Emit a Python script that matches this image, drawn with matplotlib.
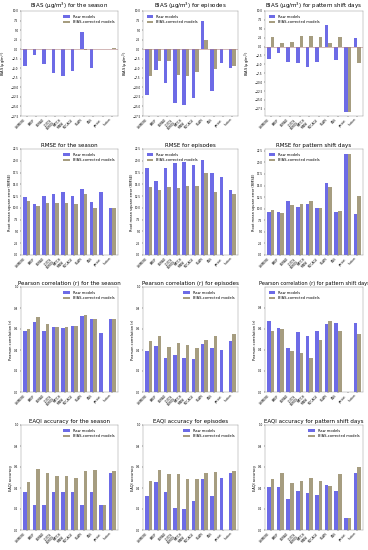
import numpy as np
import matplotlib
matplotlib.use("Agg")
import matplotlib.pyplot as plt

models = ['CHIMERE', 'EMEP', 'EURAD', 'LOTOS\nEUROS', 'MATCH\nMINNI', 'MOCAGE', 'SILAM', 'ENS', 'persist', 'fusion']
nan = np.nan

bias_season_raw = [-4.5, -1.5, -3.8, -6.2, -6.9, -5.6, 4.5, -4.9, nan, 0.0]
bias_season_cor = [0.05, 0.05, 0.05, 0.05, 0.05, 0.05, -0.3, 0.05, nan, 0.3]
bias_epi_raw = [-12.1, -5.5, -8.9, -14.0, -14.7, -12.7, 7.5, -11.0, -3.6, -4.9]
bias_epi_cor = [-6.9, -3.2, -3.2, -6.7, -6.9, -6.0, 2.3, -5.3, nan, -4.4]
bias_shift_raw = [-3.5, -1.8, -4.2, -4.7, -5.6, -4.4, 6.0, -3.9, -18.5, 2.5]
bias_shift_cor = [2.7, 1.1, 1.4, 3.1, 3.1, 2.8, 1.0, 2.6, -18.5, -4.6]

rmse_season_raw = [12.3, 10.9, 12.5, 12.9, 13.3, 12.5, 14.1, 11.3, 13.3, 9.9]
rmse_season_cor = [11.4, 10.3, 11.0, 11.0, 11.0, 10.9, 12.9, 9.9, nan, 9.9]
rmse_epi_raw = [18.4, 15.8, 18.4, 19.6, 19.8, 19.1, 20.1, 17.4, 16.6, 13.9]
rmse_epi_cor = [14.5, 13.8, 14.4, 14.3, 14.6, 14.6, 17.5, 13.4, nan, 13.0]
rmse_shift_raw = [9.2, 9.3, 11.7, 10.4, 11.1, 10.2, 15.5, 9.3, 21.8, 8.8]
rmse_shift_cor = [9.7, 9.1, 10.9, 11.1, 11.7, 10.2, 14.7, 9.5, 21.8, 12.8]

r_season_raw = [0.58, 0.67, 0.58, 0.62, 0.61, 0.63, 0.72, 0.70, 0.56, 0.70]
r_season_cor = [0.60, 0.71, 0.65, 0.62, 0.62, 0.63, 0.73, 0.70, nan, 0.70]
r_epi_raw = [0.39, 0.44, 0.32, 0.35, 0.32, 0.31, 0.46, 0.42, 0.40, 0.49]
r_epi_cor = [0.49, 0.53, 0.43, 0.47, 0.45, 0.42, 0.50, 0.53, nan, 0.55]
r_shift_raw = [0.67, 0.61, 0.42, 0.57, 0.53, 0.58, 0.64, 0.65, nan, 0.65]
r_shift_cor = [0.58, 0.60, 0.39, 0.37, 0.32, 0.49, 0.67, 0.58, nan, 0.55]

eaqi_season_raw = [0.36, 0.24, 0.24, 0.36, 0.36, 0.36, 0.24, 0.36, 0.24, 0.54]
eaqi_season_cor = [0.46, 0.58, 0.54, 0.51, 0.51, 0.50, 0.56, 0.57, 0.24, 0.56]
eaqi_epi_raw = [0.32, 0.46, 0.36, 0.21, 0.20, 0.28, 0.49, 0.32, 0.50, 0.54]
eaqi_epi_cor = [0.47, 0.57, 0.53, 0.53, 0.49, 0.49, 0.54, 0.55, nan, 0.56]
eaqi_shift_raw = [0.41, 0.41, 0.30, 0.37, 0.35, 0.33, 0.43, 0.37, 0.11, 0.54]
eaqi_shift_cor = [0.49, 0.54, 0.45, 0.47, 0.50, 0.47, 0.42, 0.53, 0.11, 0.60]

bias_label = 'BIAS (\u00b5g/m$^3$)'
panels = [
    (bias_season_raw, bias_season_cor, bias_label + ' for the season', bias_label, (-17.5, 10), np.arange(-17.5, 10.1, 2.5), 'upper right'),
    (bias_epi_raw, bias_epi_cor, bias_label + ' for episodes', bias_label, (-17.5, 10), np.arange(-17.5, 10.1, 2.5), 'upper left'),
    (bias_shift_raw, bias_shift_cor, bias_label + ' for pattern shift days', bias_label, (-19.5, 10), np.arange(-17.5, 10.1, 2.5), 'upper left'),
    (rmse_season_raw, rmse_season_cor, 'RMSE for the season', 'Root mean square error (RMSE)', (0, 22.5), np.arange(0, 22.6, 2.5), 'upper right'),
    (rmse_epi_raw, rmse_epi_cor, 'RMSE for episodes', 'Root mean square error (RMSE)', (0, 22.5), np.arange(0, 22.6, 2.5), 'upper left'),
    (rmse_shift_raw, rmse_shift_cor, 'RMSE for pattern shift days', 'Root mean square error (RMSE)', (0, 22.9), np.arange(0, 22.6, 2.5), 'upper left'),
    (r_season_raw, r_season_cor, 'Pearson correlation (r) for the season', 'Pearson correlation (r)', (0, 1), np.arange(0, 1.01, 0.2), 'upper right'),
    (r_epi_raw, r_epi_cor, 'Pearson correlation (r) for episodes', 'Pearson correlation (r)', (0, 1), np.arange(0, 1.01, 0.2), 'upper right'),
    (r_shift_raw, r_shift_cor, 'Pearson correlation (r) for pattern shift days', 'Pearson correlation (r)', (0, 0.995), np.arange(0, 0.81, 0.2), 'upper left'),
    (eaqi_season_raw, eaqi_season_cor, 'EAQI accuracy for the season', 'EAQI accuracy', (0, 1), np.arange(0, 1.01, 0.2), 'upper right'),
    (eaqi_epi_raw, eaqi_epi_cor, 'EAQI accuracy for episodes', 'EAQI accuracy', (0, 1), np.arange(0, 1.01, 0.2), 'upper right'),
    (eaqi_shift_raw, eaqi_shift_cor, 'EAQI accuracy for pattern shift days', 'EAQI accuracy', (0, 1), np.arange(0, 1.01, 0.2), 'upper right'),
]

W, H = 368, 550
fig = plt.figure(figsize=(W / 100, H / 100), dpi=100)
col_x = [(21, 118), (143, 238), (265, 363)]
row_y = [(11, 116), (149, 255), (287, 392), (425, 530)]

raw_c = '#6d6be6'
cor_c = '#a69d80'
x = np.arange(len(models))
w = 0.38

for i, (raw, cor, title, ylab, ylim, yt, loc) in enumerate(panels):
    r, c = divmod(i, 3)
    x0, x1 = col_x[c]
    y0, y1 = row_y[r]
    ax = fig.add_axes([x0 / W, 1 - y1 / H, (x1 - x0) / W, (y1 - y0) / H])
    ax.bar(x - w / 2, raw, w, color=raw_c, label='Raw models')
    ax.bar(x + w / 2, cor, w, color=cor_c, label='BIAS-corrected models')
    if r == 0:
        ax.axhline(0, color='#b08080', lw=0.4)
    ax.set_ylim(*ylim)
    ax.set_yticks(yt)
    ax.set_xticks(x)
    ax.set_xticklabels(models, rotation=45, ha='right', fontsize=2.1, linespacing=0.9)
    ax.tick_params(axis='y', labelsize=2.0, length=1, width=0.3, pad=0.8)
    ax.tick_params(axis='x', length=1, width=0.3, pad=0.5)
    tfs = 3.6 if len(title) > 40 else 4
    ax.set_title(title, fontsize=tfs, pad=1.5)
    ax.set_ylabel(ylab, fontsize=2.6, labelpad=0.6)
    ax.set_xlim(-0.6, len(models) - 0.4)
    for s in ax.spines.values():
        s.set_linewidth(0.3)
        s.set_color('#888888')
    ax.legend(loc=loc, fontsize=2.6, frameon=False, handlelength=1.8, handleheight=0.7,
              borderaxespad=0.6, labelspacing=0.4)

fig.savefig('out.png', dpi=100)
